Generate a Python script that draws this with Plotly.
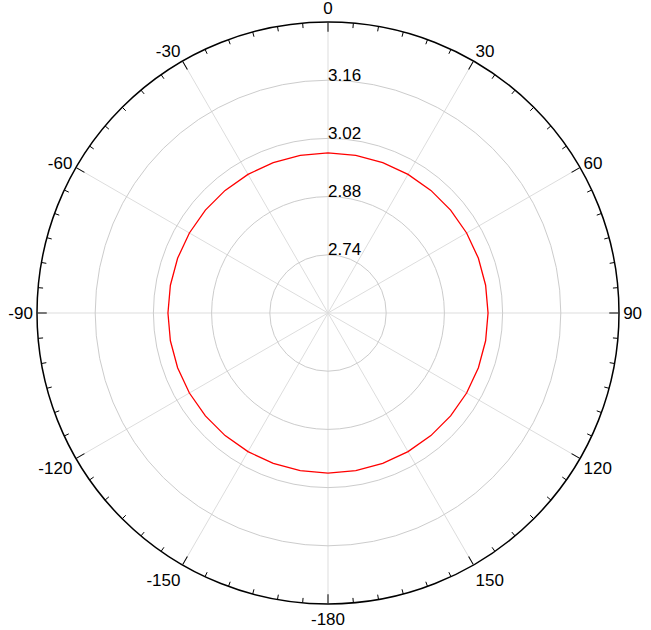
import plotly.graph_objects as go

# red curve, sampled every 10 degrees
angles = list(range(-180, 190, 10))
values = [2.985] * len(angles)

ring_vals = [2.74, 2.88, 3.02, 3.16]
ring_text = ['2.74', '2.88', '3.02', '3.16']
r_min, r_max = 2.60, 3.30

major_deg = list(range(0, 360, 30))
major_text = ['0', '30', '60', '90', '120', '150', '-180', '-150', '-120', '-90', '-60', '-30']
minor_deg = [d for d in range(0, 360, 5) if d % 30 != 0]

W, H = 651, 630
cx, cy, rad = 328, 313, 291

fig = go.Figure()

# minor ticks drawn as short radial segments inside the outer ring
tick_r, tick_t = [], []
for d in minor_deg:
    tick_r += [r_max, r_max - 0.012, None]
    tick_t += [d, d, None]
fig.add_trace(go.Scatterpolar(r=tick_r, theta=tick_t, mode='lines',
                              line=dict(color='black', width=1),
                              hoverinfo='skip', showlegend=False))

fig.add_trace(go.Scatterpolar(r=values, theta=angles, mode='lines',
                              line=dict(color='red', width=1.3),
                              showlegend=False))

# ring labels sit just above each ring, along the 0 direction
lift = 0.009
fig.add_trace(go.Scatterpolar(r=[v + lift for v in ring_vals], theta=[0] * len(ring_vals),
                              mode='text', text=ring_text, textposition='middle right',
                              textfont=dict(family='Liberation Sans, Arial', size=17, color='black'),
                              hoverinfo='skip', showlegend=False))

fig.update_layout(
    width=W, height=H,
    margin=dict(l=0, r=0, t=0, b=0),
    paper_bgcolor='white',
    font=dict(family='Liberation Sans, Arial', size=16, color='black'),
    polar=dict(
        domain=dict(x=[(cx - rad) / W, (cx + rad) / W],
                    y=[(H - cy - rad) / H, (H - cy + rad) / H]),
        bgcolor='white',
        radialaxis=dict(range=[r_min, r_max], tickvals=ring_vals, showticklabels=False,
                        ticks='', showline=False, gridcolor='#cccccc', gridwidth=1.2),
        angularaxis=dict(rotation=90, direction='clockwise', tickmode='array',
                         tickvals=major_deg, ticktext=major_text,
                         tickfont=dict(family='Liberation Sans, Arial', size=17, color='black'),
                         ticks='inside', ticklen=9, tickwidth=1.2, tickcolor='black',
                         showline=True, linecolor='black', linewidth=1.5,
                         gridcolor='#dddddd', gridwidth=1.2),
    ),
)

fig.write_html("out.html", config={'displayModeBar': False},
               post_script="document.body.style.margin='0';")
